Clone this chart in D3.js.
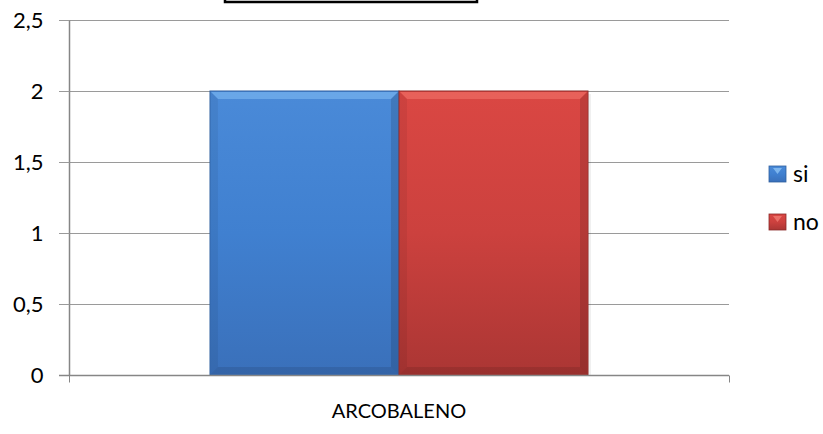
<!DOCTYPE html>
<html><head><meta charset="utf-8">
<script src="https://cdn.jsdelivr.net/npm/d3@7"></script>
<style>body{margin:0;background:#fff}svg{display:block}</style>
</head><body>
<svg id="c" width="823" height="434"></svg>
<script>
const categories = ["ARCOBALENO"];
const seriesNames = ["si", "no"];
const siValues = [2];
const noValues = [2];
const yTicks = [0, 0.5, 1, 1.5, 2, 2.5];
const yTickLabels = ["0", "0,5", "1", "1,5", "2", "2,5"];

const svg = d3.select("#c");
const m = {l: 69, r: 94, t: 20, b: 59};
const W = 823, H = 434;
const FONT = "Lato, 'Open Sans', sans-serif";
const x0 = d3.scaleBand().domain(categories).range([m.l, W - m.r]).paddingInner(0).paddingOuter(0.373);
const x1 = d3.scaleBand().domain(seriesNames).range([0, x0.bandwidth()]).padding(0);
const y = d3.scaleLinear().domain([0, 2.5]).range([H - m.b, m.t]);

const defs = svg.append("defs");
const cols = {si: ["#4a8ad8", "#4080d0", "#3a70ba"], no: ["#da4743", "#cc413e", "#ab3634"]};
seriesNames.forEach(s => {
  const g = defs.append("linearGradient").attr("id", "g_" + s).attr("x1", 0).attr("y1", 0).attr("x2", 0).attr("y2", 1);
  g.append("stop").attr("offset", "0").attr("stop-color", cols[s][0]);
  g.append("stop").attr("offset", "0.5").attr("stop-color", cols[s][1]);
  g.append("stop").attr("offset", "1").attr("stop-color", cols[s][2]);
});

// title box remnant
svg.append("rect").attr("x", 225).attr("y", -10).attr("width", 252).attr("height", 12)
  .attr("fill", "none").attr("stroke", "#000").attr("stroke-width", 2.5);

// gridlines
svg.append("g").selectAll("line").data(yTicks.slice(1)).join("line")
  .attr("x1", m.l - 10).attr("x2", W - m.r).attr("y1", d => Math.round(y(d)) + 0.5).attr("y2", d => Math.round(y(d)) + 0.5)
  .attr("stroke", "#9a9a9a").attr("stroke-width", 1);

// bars
const data = categories.map((c, i) => ({c, vals: [{s: "si", v: siValues[i]}, {s: "no", v: noValues[i]}]}));
const cg = svg.append("g").selectAll("g").data(data).join("g").attr("transform", d => `translate(${x0(d.c)},0)`);
const bar = cg.selectAll("g").data(d => d.vals).join("g");
bar.append("rect").attr("x", d => x1(d.s) + 3).attr("y", d => y(d.v) + 3).attr("width", x1.bandwidth()).attr("height", d => y(0) - y(d.v) - 3)
  .attr("fill", "#000").attr("opacity", 0.06);
bar.append("rect").attr("x", d => x1(d.s)).attr("y", d => y(d.v)).attr("width", x1.bandwidth()).attr("height", d => y(0) - y(d.v))
  .attr("fill", d => `url(#g_${d.s})`).attr("stroke", d => d.s === "si" ? "#2f5f9e" : "#8a2a28").attr("stroke-width", 1);
bar.append("path").attr("d", d => { const x = x1(d.s), w = x1.bandwidth(), t = y(d.v); return `M${x+1},${t+1}H${x+w-1}L${x+w-8},${t+8}H${x+8}Z`; })
  .attr("fill", d => d.s === "si" ? "#74b0ee" : "#ec6a62").attr("opacity", 0.75);
bar.append("path").attr("d", d => { const x = x1(d.s), w = x1.bandwidth(), t = y(d.v), b = y(0); return `M${x+w-1},${t+1}V${b-1}L${x+w-8},${b-8}V${t+8}Z`; })
  .attr("fill", "#000").attr("opacity", 0.12);
bar.append("path").attr("d", d => { const x = x1(d.s), t = y(d.v), b = y(0); return `M${x+1},${t+1}V${b-1}L${x+8},${b-8}V${t+8}Z`; })
  .attr("fill", "#000").attr("opacity", 0.06);
bar.append("path").attr("d", d => { const x = x1(d.s), w = x1.bandwidth(), b = y(0); return `M${x+1},${b-1}H${x+w-1}L${x+w-8},${b-8}H${x+8}Z`; })
  .attr("fill", "#000").attr("opacity", 0.1);

// axes
const yAxis = svg.append("g").attr("transform", `translate(${m.l + 0.5},0)`)
  .call(d3.axisLeft(y).tickValues(yTicks).tickFormat((d, i) => yTickLabels[i]).tickSize(10).tickPadding(16));
yAxis.select(".domain").attr("stroke", "#868686").attr("stroke-width", 1.5).attr("d", `M0,${y(2.5)}V${y(0)}`);
yAxis.selectAll(".tick line").attr("stroke", "#9a9a9a");
yAxis.selectAll("text").attr("font-family", FONT).attr("font-size", 22).attr("fill", "#000");

const xa = svg.append("g").attr("transform", `translate(0,${y(0) + 0.5})`);
xa.append("line").attr("x1", m.l - 10).attr("x2", W - m.r).attr("stroke", "#868686").attr("stroke-width", 1.5);
xa.selectAll(".t").data([m.l, W - m.r]).join("line").attr("class", "t").attr("x1", d => d + 0.5).attr("x2", d => d + 0.5).attr("y1", 0).attr("y2", 7).attr("stroke", "#868686");
xa.selectAll("text").data(categories).join("text").attr("x", d => x0(d) + x0.bandwidth() / 2).attr("y", 42)
  .attr("text-anchor", "middle").attr("font-family", FONT).attr("font-size", 20).text(d => d);

// legend
const lg = svg.append("g").selectAll("g").data(seriesNames).join("g").attr("transform", (d, i) => `translate(769,${166 + i * 48})`);
lg.append("rect").attr("width", 17).attr("height", 16).attr("fill", d => `url(#g_${d})`).attr("stroke", d => d === "si" ? "#2f5f9e" : "#8a2a28").attr("stroke-width", 0.8);
lg.append("path").attr("d", "M4,2 L13,2 L8.5,8 Z").attr("fill", d => d === "si" ? "#8cc2f4" : "#f07a72").attr("opacity", 0.8);
lg.append("text").attr("x", 24).attr("y", 8).attr("dy", "0.35em").attr("font-family", FONT).attr("font-size", 23).text(d => d);
</script>
</body></html>
